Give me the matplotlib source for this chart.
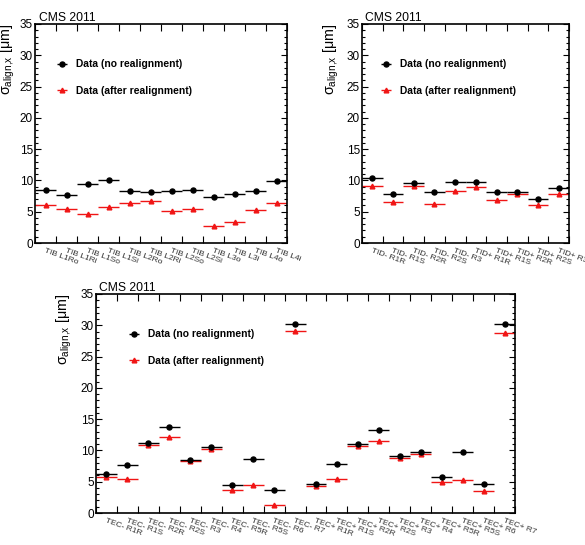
import matplotlib
matplotlib.use("Agg")
import matplotlib.pyplot as plt
import numpy as np

plt.rcParams['font.family'] = ['Liberation Sans', 'DejaVu Sans']
plt.rcParams['mathtext.fontset'] = 'custom'
plt.rcParams['mathtext.rm'] = 'Liberation Sans'
plt.rcParams['mathtext.it'] = 'Liberation Sans:italic'
plt.rcParams['mathtext.bf'] = 'Liberation Sans:bold'

# ---------------- data ----------------
tib_labels = ["TIB L1Ro", "TIB L1Ri", "TIB L1So", "TIB L1Si", "TIB L2Ro", "TIB L2Ri",
              "TIB L2So", "TIB L2Si", "TIB L3o", "TIB L3i", "TIB L4o", "TIB L4i"]
tib_before = [8.47, 7.67, 9.43, 10.07, 8.36, 8.20, 8.36, 8.52, 7.35, 7.88, 8.36, 9.91]
tib_after = [6.07, 5.38, 4.58, 5.75, 6.34, 6.77, 5.17, 5.38, 2.66, 3.36, 5.22, 6.39]

tid_labels = ["TID- R1R", "TID- R1S", "TID- R2R", "TID- R2S", "TID- R3",
              "TID+ R1R", "TID+ R1S", "TID+ R2R", "TID+ R2S", "TID+ R3"]
tid_before = [10.34, 7.78, 9.54, 8.20, 9.70, 9.70, 8.15, 8.15, 7.09, 8.74]
tid_after = [9.06, 6.55, 9.11, 6.18, 8.36, 8.95, 6.87, 7.88, 6.02, 7.78]

tec_labels = ["TEC- R1R", "TEC- R1S", "TEC- R2R", "TEC- R2S", "TEC- R3", "TEC- R4",
              "TEC- R5R", "TEC- R5S", "TEC- R6", "TEC- R7",
              "TEC+ R1R", "TEC+ R1S", "TEC+ R2R", "TEC+ R2S", "TEC+ R3", "TEC+ R4",
              "TEC+ R5R", "TEC+ R5S", "TEC+ R6", "TEC+ R7"]
tec_before = [6.19, 7.63, 11.20, 13.77, 8.48, 10.50, 4.54, 8.70, 3.74, 30.15,
              4.70, 7.90, 10.97, 13.26, 9.18, 9.82, 5.82, 9.71, 4.70, 30.15]
tec_after = [5.76, 5.39, 10.94, 12.11, 8.27, 10.30, 3.74, 4.54, 1.23, 29.03,
             4.38, 5.50, 10.73, 11.58, 8.80, 9.44, 5.02, 5.23, 3.52, 28.76]

ylabel_text = r'$\mathrm{σ}_{\mathrm{align{,}x}}$ [μm]'
legend_before = "Data (no realignment)"
legend_after = "Data (after realignment)"
cms_text = "CMS 2011"

W, H = 585, 545
fig = plt.figure(figsize=(W / 100, H / 100), dpi=100)


def px_axes(l, t, r, b):
    return fig.add_axes([l / W, (H - b) / H, (r - l) / W, (b - t) / H])


def panel(ax, labels, before, after, ylab_x, cms_x, leg_anchor):
    n = len(labels)
    x = np.arange(n) + 0.5
    e1 = ax.errorbar(x, before, xerr=0.5, fmt='o', color='black', ms=3.6,
                     elinewidth=1.0, capsize=0, label=legend_before, zorder=3)
    e2 = ax.errorbar(x, after, xerr=0.5, fmt='^', color='#f01515', ms=3.4,
                     elinewidth=1.0, capsize=0, label=legend_after, zorder=2)
    ax.set_xlim(0, n)
    ax.set_ylim(0, 35)
    ax.set_xticks(np.arange(n + 1))
    ax.set_xticklabels([])
    ax.set_xticks(x, minor=True)
    ax.set_xticklabels(labels, minor=True, rotation=-20, ha='left', va='top',
                       rotation_mode='anchor', fontsize=6.0, color='#333333')
    ax.tick_params(axis='x', which='major', direction='in', length=5, width=0.8,
                   top=True, bottom=True)
    ax.tick_params(axis='x', which='minor', length=0, pad=3)
    ax.set_yticks(np.arange(0, 36, 5))
    ax.set_yticks(np.arange(0, 36, 1), minor=True)
    ax.tick_params(axis='y', which='major', direction='in', length=4.5, width=0.8,
                   left=True, right=True, labelsize=8.5, pad=1.5)
    ax.tick_params(axis='y', which='minor', direction='in', length=2.5, width=0.8,
                   left=True, right=True)
    for s in ax.spines.values():
        s.set_linewidth(1.2)
    ax.set_ylabel(ylabel_text, loc='top', fontsize=10.3)
    ax.yaxis.set_label_coords(ylab_x, 1.0)
    ax.text(cms_x, 1.014, cms_text, transform=ax.transAxes, fontsize=8.7,
            va='baseline', ha='left')
    ax.legend(handles=[e1, e2], loc='upper left', bbox_to_anchor=leg_anchor,
              frameon=False, prop={'weight': 'bold', 'size': 7.4},
              handlelength=1.2, handletextpad=0.8, labelspacing=1.6,
              borderpad=0, borderaxespad=0)


ax1 = px_axes(35, 24, 287, 243)
panel(ax1, tib_labels, tib_before, tib_after, -0.07, 0.016, (0.083, 0.838))

ax2 = px_axes(362, 24, 569, 243)
panel(ax2, tid_labels, tid_before, tid_after, -0.102, 0.0145, (0.085, 0.838))

ax3 = px_axes(96, 294, 515, 513)
panel(ax3, tec_labels, tec_before, tec_after, -0.052, 0.007, (0.076, 0.838))

fig.savefig("out.png", dpi=100, facecolor='white')
